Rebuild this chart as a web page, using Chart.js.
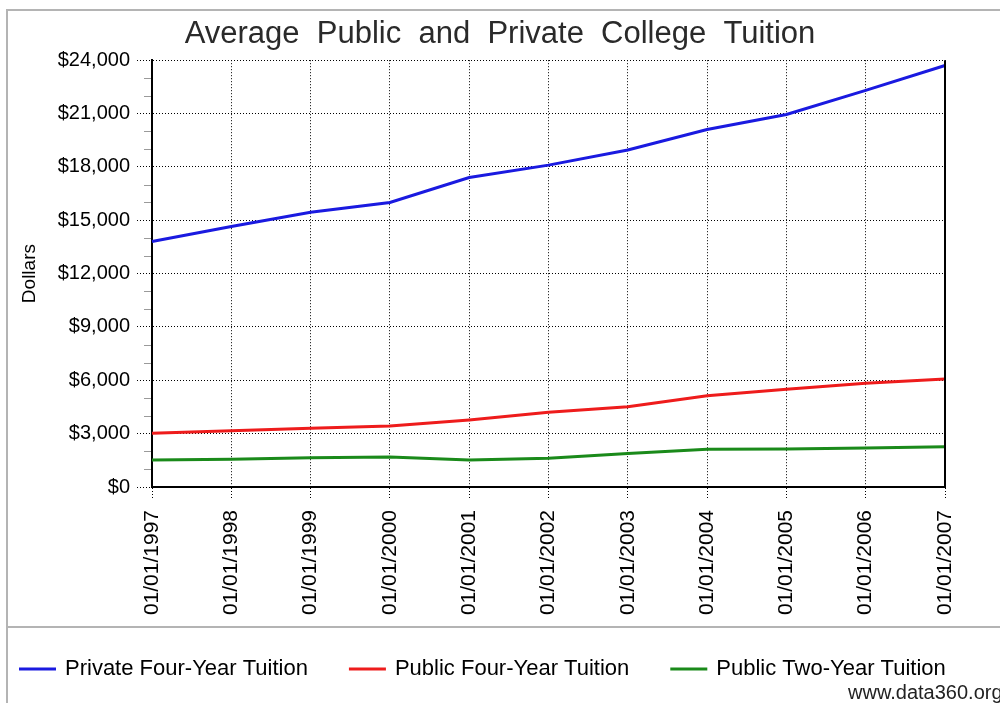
<!DOCTYPE html>
<html lang="en">
<head>
    <meta charset="UTF-8">
    <title>Average Public and Private College Tuition</title>
    <script src="https://cdn.jsdelivr.net/npm/chart.js"></script>
    <style>
        html, body { margin: 0; padding: 0; background: #fff; }
        #wrap { width: 1000px; height: 703px; }
    </style>
</head>
<body>
<div id="wrap"><canvas id="tuitionChart" width="1000" height="703"></canvas></div>
<script>
// Data (US dollars)
const years = ['01/01/1997', '01/01/1998', '01/01/1999', '01/01/2000', '01/01/2001', '01/01/2002',
               '01/01/2003', '01/01/2004', '01/01/2005', '01/01/2006', '01/01/2007'];
const privateFourYear = [13800, 14650, 15450, 16000, 17400, 18100, 18950, 20100, 20950, 22300, 23700];
const publicFourYear  = [3020, 3170, 3300, 3430, 3770, 4200, 4510, 5130, 5490, 5830, 6070];
const publicTwoYear   = [1520, 1560, 1650, 1690, 1520, 1610, 1890, 2120, 2130, 2190, 2270];
const seriesNames = ['Private Four-Year Tuition', 'Public Four-Year Tuition', 'Public Two-Year Tuition'];
const seriesColors = ['#1a1ae0', '#ee1c1c', '#1a8a1a'];

const FONT = "'Liberation Sans', Arial, sans-serif";

// frame, right edge, minor ticks, legend and watermark
const decorations = {
    id: 'decorations',
    afterDraw(chart) {
        const ctx = chart.ctx;
        const area = chart.chartArea;
        const y = chart.scales.y;
        ctx.save();

        // minor ticks every 1000
        ctx.strokeStyle = '#9a9a9a';
        ctx.lineWidth = 1;
        for (let v = 1000; v < 24000; v += 1000) {
            if (v % 3000 === 0) continue;
            const py = Math.round(y.getPixelForValue(v)) + 0.5;
            ctx.beginPath();
            ctx.moveTo(area.left - 8, py);
            ctx.lineTo(area.left - 1, py);
            ctx.stroke();
        }

        // solid right edge of the plot
        ctx.strokeStyle = '#000';
        ctx.lineWidth = 2;
        ctx.beginPath();
        ctx.moveTo(area.right, area.top);
        ctx.lineTo(area.right, area.bottom);
        ctx.stroke();

        // outer frame and legend separator
        ctx.strokeStyle = '#b4b4b4';
        ctx.lineWidth = 2;
        ctx.beginPath();
        ctx.moveTo(7, 703);
        ctx.lineTo(7, 10);
        ctx.lineTo(1000, 10);
        ctx.moveTo(7, 627);
        ctx.lineTo(1000, 627);
        ctx.stroke();

        // legend
        ctx.font = '22px ' + FONT;
        ctx.textBaseline = 'middle';
        ctx.fillStyle = '#000';
        let x = 19;
        const ly = 669;
        chart.data.datasets.forEach(ds => {
            ctx.strokeStyle = ds.borderColor;
            ctx.lineWidth = 3;
            ctx.beginPath();
            ctx.moveTo(x, ly);
            ctx.lineTo(x + 37, ly);
            ctx.stroke();
            x += 46;
            ctx.fillText(ds.label, x, ly);
            x += ctx.measureText(ds.label).width + 41;
        });

        // watermark
        ctx.font = '20px ' + FONT;
        ctx.fillStyle = '#222';
        ctx.textBaseline = 'alphabetic';
        ctx.fillText('www.data360.org', 848, 699);

        ctx.restore();
    }
};

new Chart(document.getElementById('tuitionChart').getContext('2d'), {
    type: 'line',
    data: {
        labels: years,
        datasets: [
            { label: seriesNames[0], data: privateFourYear, borderColor: seriesColors[0] },
            { label: seriesNames[1], data: publicFourYear, borderColor: seriesColors[1] },
            { label: seriesNames[2], data: publicTwoYear, borderColor: seriesColors[2] }
        ]
    },
    options: {
        responsive: false,
        animation: false,
        layout: { padding: 0 },
        elements: {
            line: { borderWidth: 3, tension: 0 },
            point: { radius: 0 }
        },
        plugins: {
            legend: { display: false },
            tooltip: { enabled: false },
            title: {
                display: true,
                text: 'Average  Public  and  Private  College  Tuition',
                color: '#2a2a2a',
                font: { family: FONT, size: 31, weight: 'normal', lineHeight: 1.2 },
                padding: { top: 16, bottom: 7 }
            }
        },
        scales: {
            x: {
                offset: false,
                afterFit(scale) { scale.height = 216; },
                grid: {
                    color: '#000', lineWidth: 1, tickLength: 12,
                    tickColor: '#000', tickBorderDash: [1, 2]
                },
                border: { display: true, color: '#000', width: 2, dash: [1, 2] },
                ticks: {
                    color: '#000', padding: 11, maxRotation: 90, minRotation: 90,
                    autoSkip: false,
                    font: { family: FONT, size: 21 }
                }
            },
            y: {
                min: 0,
                max: 24000,
                afterFit(scale) { scale.width = 152; },
                grid: {
                    color: '#000', lineWidth: 1, tickLength: 15,
                    tickColor: '#000', tickBorderDash: [1, 2]
                },
                border: { display: true, color: '#000', width: 2, dash: [1, 2] },
                ticks: {
                    stepSize: 3000,
                    color: '#000',
                    padding: 7,
                    font: { family: FONT, size: 20 },
                    callback: v => '$' + v.toLocaleString('en-US')
                },
                title: {
                    display: true,
                    text: 'Dollars',
                    color: '#000',
                    font: { family: FONT, size: 19, lineHeight: 1.2 },
                    padding: { top: 18, bottom: 0 }
                }
            },
            // empty right-hand strip so the plot ends where the reference ends
            yRight: {
                position: 'right',
                display: true,
                afterFit(scale) { scale.width = 55; },
                grid: { display: false },
                border: { display: false },
                ticks: { display: false }
            }
        }
    },
    plugins: [decorations]
});
</script>
</body>
</html>
